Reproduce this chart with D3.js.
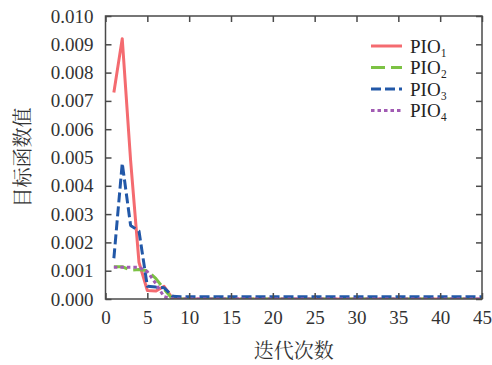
<!DOCTYPE html>
<html>
<head>
<meta charset="utf-8">
<script src="https://cdn.jsdelivr.net/npm/d3@7"></script>
<style>
  body { margin: 0; background: #fff; }
  svg { display: block; }
</style>
</head>
<body>
<div class="svgContainer"></div>
<script>
// iterations 1..45
const iterations = d3.range(1, 46);
const pio1 = [0.0073, 0.0092, 0.0049, 0.0013, 0.0003, 0.00028, 0.00045, 0.00002, 0, 0,
  0, 0, 0, 0, 0, 0, 0, 0, 0, 0, 0, 0, 0, 0, 0, 0, 0, 0, 0, 0,
  0, 0, 0, 0, 0, 0, 0, 0, 0, 0, 0, 0, 0, 0, 0];
const pio2 = [0.00114, 0.00114, 0.00102, 0.00104, 0.001, 0.00073, 0.00035, 0, 0, 0,
  0, 0, 0, 0, 0, 0, 0, 0, 0, 0, 0, 0, 0, 0, 0, 0, 0, 0, 0, 0,
  0, 0, 0, 0, 0, 0, 0, 0, 0, 0, 0, 0, 0, 0, 0];
const pio3 = [0.00144, 0.0048, 0.0026, 0.0024, 0.00045, 0.00042, 0.0004, 0.0001, 0.00008, 0.00008,
  0.00008, 0.00008, 0.00008, 0.00008, 0.00008, 0.00008, 0.00008, 0.00008, 0.00008, 0.00008,
  0.00008, 0.00008, 0.00008, 0.00008, 0.00008, 0.00008, 0.00008, 0.00008, 0.00008, 0.00008,
  0.00008, 0.00008, 0.00008, 0.00008, 0.00008, 0.00008, 0.00008, 0.00008, 0.00008, 0.00008,
  0.00008, 0.00008, 0.00008, 0.00008, 0.00008];
const pio4 = [0.00112, 0.00112, 0.00112, 0.00112, 0.00097, 0.00055, 0.00008, 0, 0, 0,
  0, 0, 0, 0, 0, 0, 0, 0, 0, 0, 0, 0, 0, 0, 0, 0, 0, 0, 0, 0,
  0, 0, 0, 0, 0, 0, 0, 0, 0, 0, 0, 0, 0, 0, 0];
const seriesNames = ['PIO₁', 'PIO₂', 'PIO₃', 'PIO₄'];
const xTicks = d3.range(0, 46, 5);
const yTicks = d3.range(0, 11).map(d => d / 1000);
const xTitle = '迭代次数';
const yTitle = '目标函数值';

const width = 492;
const height = 365;
const plotLeft = 105.5;
const plotRight = 482;
const plotTop = 16;
const plotBottom = 299;
const numFont = '"Liberation Serif", "Times New Roman", serif';
const cjkFont = '"Noto Serif CJK SC", "Noto Sans CJK SC", sans-serif';
const axisColor = '#4a4a4a';

const styles = [
  { color: '#f46b70', dash: null },
  { color: '#7cc244', dash: '14,6' },
  { color: '#2258a8', dash: '10,4' },
  { color: '#a15bb3', dash: '3.5,3' }
];
const allSeries = [pio1, pio2, pio3, pio4];

const svg = d3.select('.svgContainer').append('svg')
  .attr('width', width)
  .attr('height', height);

const scaleX = d3.scaleLinear().domain([0, 45]).range([plotLeft, plotRight]);
const scaleY = d3.scaleLinear().domain([0, 0.010]).range([plotBottom, plotTop]);

svg.append('defs').append('clipPath').attr('id', 'plot')
  .append('rect')
  .attr('x', plotLeft).attr('y', plotTop - 2)
  .attr('width', plotRight - plotLeft).attr('height', plotBottom - plotTop + 2);

// lines
const line = d3.line()
  .x((d, i) => scaleX(iterations[i]))
  .y(d => scaleY(d));

const lines = svg.append('g').attr('clip-path', 'url(#plot)');
allSeries.forEach((values, k) => {
  lines.append('path')
    .datum(values)
    .attr('fill', 'none')
    .attr('stroke', styles[k].color)
    .attr('stroke-width', 3)
    .attr('stroke-dasharray', styles[k].dash)
    .attr('stroke-linejoin', 'round')
    .attr('d', line);
});

// axes, ticks inward on all four sides
function styleAxis(g) {
  g.selectAll('.domain').remove();
  g.selectAll('.tick line').attr('stroke', axisColor).attr('stroke-width', 1.5);
  g.selectAll('.tick text')
    .attr('fill', '#333')
    .style('font-family', numFont)
    .style('font-size', '19px');
}

svg.append('g')
  .attr('transform', 'translate(0,' + plotBottom + ')')
  .call(d3.axisBottom(scaleX).tickValues(xTicks).tickSizeInner(-6).tickSizeOuter(0).tickPadding(12))
  .call(styleAxis);

svg.append('g')
  .attr('transform', 'translate(0,' + plotTop + ')')
  .call(d3.axisTop(scaleX).tickValues(xTicks).tickSizeInner(-6).tickSizeOuter(0).tickFormat(''))
  .call(styleAxis);

svg.append('g')
  .attr('transform', 'translate(' + plotLeft + ',0)')
  .call(d3.axisLeft(scaleY).tickValues(yTicks).tickSizeInner(-6).tickSizeOuter(0).tickPadding(12).tickFormat(d3.format('.3f')))
  .call(styleAxis);

svg.append('g')
  .attr('transform', 'translate(' + plotRight + ',0)')
  .call(d3.axisRight(scaleY).tickValues(yTicks).tickSizeInner(-6).tickSizeOuter(0).tickFormat(''))
  .call(styleAxis);

svg.append('rect')
  .attr('x', plotLeft).attr('y', plotTop)
  .attr('width', plotRight - plotLeft).attr('height', plotBottom - plotTop)
  .attr('fill', 'none')
  .attr('stroke', axisColor)
  .attr('stroke-width', 1.5);

// axis titles
svg.append('text')
  .attr('x', (plotLeft + plotRight) / 2)
  .attr('y', 358)
  .attr('text-anchor', 'middle')
  .attr('fill', '#333')
  .style('font-family', cjkFont)
  .style('font-size', '20px')
  .text(xTitle);

svg.append('text')
  .attr('transform', 'translate(30,' + (plotTop + plotBottom) / 2 + ') rotate(-90)')
  .attr('text-anchor', 'middle')
  .attr('fill', '#333')
  .style('font-family', cjkFont)
  .style('font-size', '20px')
  .text(yTitle);

// legend
const legend = svg.append('g');
seriesNames.forEach((name, k) => {
  const y = 46 + k * 21.5;
  legend.append('line')
    .attr('x1', 371).attr('x2', 402)
    .attr('y1', y).attr('y2', y)
    .attr('stroke', styles[k].color)
    .attr('stroke-width', 3)
    .attr('stroke-dasharray', styles[k].dash);
  legend.append('text')
    .attr('x', 410)
    .attr('y', y + 6.5)
    .attr('fill', '#222')
    .style('font-family', numFont)
    .style('font-size', '19px')
    .text(name);
});
</script>
</body>
</html>
